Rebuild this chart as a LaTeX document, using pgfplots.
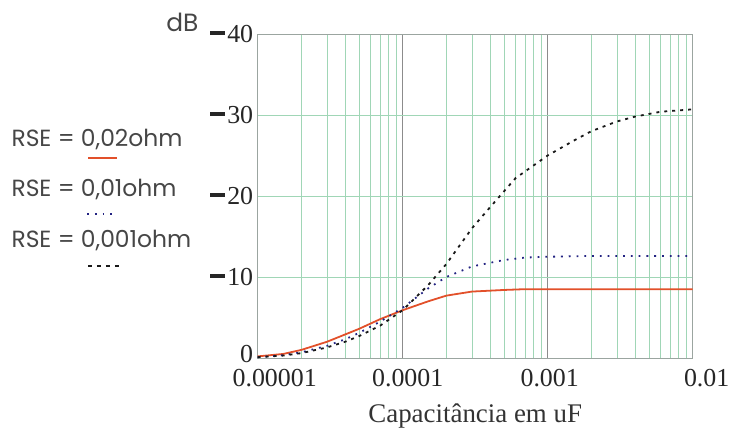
\documentclass[border=0pt]{standalone}
\usepackage{fontspec}
\setmainfont{Liberation Serif}
\newfontfamily\legfont{Poppins}
\usepackage{pgfplots}
\pgfplotsset{compat=1.18}
\definecolor{gridgreen}{RGB}{160,214,182}
\definecolor{majorgray}{RGB}{140,140,140}
\definecolor{framegray}{RGB}{155,165,160}
\definecolor{rsered}{RGB}{226,80,42}
\definecolor{rseblue}{RGB}{35,35,130}
\definecolor{rseblack}{RGB}{25,25,25}
\definecolor{legtext}{RGB}{70,70,70}
% heavy minus dash used in front of the dB tick values
\newcommand{\negsign}{\rule[7.5bp]{15bp}{3.6bp}\hspace{2bp}}

\begin{document}
\begin{tikzpicture}
\useasboundingbox (0,0) rectangle (735bp,432bp);
\begin{axis}[
  at={(257.7bp,74bp)}, anchor=south west,
  scale only axis, width=435bp, height=324bp,
  xmode=log, log basis x=10,
  xmin=1e-5, xmax=1e-2,
  ymin=-40, ymax=0, y dir=reverse,
  xtick={1e-4,1e-3,1e-2},
  xticklabels={{\hspace*{10bp}0.0001},{\hspace*{4bp}0.001},{\hspace*{28bp}0.01}},
  extra x ticks={1e-5},
  extra x tick labels={0.00001},
  extra x tick style={grid=none, xticklabel style={xshift=17bp}},
  ytick={-40,-30,-20,-10,0},
  yticklabels={\negsign40,\negsign30,\negsign20,\negsign10,\smash{\raisebox{-4bp}{0}}},
  minor xtick={2e-5,3e-5,4e-5,5e-5,6e-5,7e-5,8e-5,9e-5,
               2e-4,3e-4,4e-4,5e-4,6e-4,7e-4,8e-4,9e-4,
               2e-3,3e-3,4e-3,5e-3,6e-3,7e-3,8e-3,9e-3},
  major tick length=0pt, minor tick length=0pt,
  xmajorgrids, xminorgrids, ymajorgrids,
  x grid style={majorgray, line width=0.7pt},
  minor x grid style={gridgreen, line width=0.7pt},
  y grid style={gridgreen, line width=0.7pt},
  axis line style={framegray, line width=0.8pt},
  tick label style={font=\fontsize{26}{28}\selectfont, text=black!85},
  xticklabel style={yshift=-8bp},
  yticklabel style={xshift=-1bp},
  xlabel={Capacitância em uF},
  xlabel style={font=\fontsize{27}{30}\selectfont, text=black!80, yshift=-10bp},
  clip=false,
]
% RSE = 0,02 ohm
\addplot[rsered, line width=1.8pt] coordinates {
  (1e-5,-0.2) (1.5e-5,-0.5) (2e-5,-1.0) (3e-5,-2.0) (4e-5,-2.9)
  (5e-5,-3.6) (7e-5,-4.8) (1e-4,-5.9) (1.5e-4,-7.0) (2e-4,-7.7)
  (3e-4,-8.2) (5e-4,-8.4) (7e-4,-8.5) (1e-3,-8.5) (3e-3,-8.5) (1e-2,-8.5)
};
% RSE = 0,01 ohm
\addplot[rseblue, line width=1.8pt, dash pattern=on 1.8pt off 6pt] coordinates {
  (1e-5,-0.1) (1.5e-5,-0.35) (2e-5,-0.7) (3e-5,-1.5) (4e-5,-2.3)
  (5e-5,-3.1) (7e-5,-4.5) (1e-4,-6.2) (1.5e-4,-8.6) (2e-4,-10.0)
  (3e-4,-11.3) (5e-4,-12.1) (7e-4,-12.4) (1e-3,-12.5) (2e-3,-12.6) (1e-2,-12.6)
};
% RSE = 0,001 ohm
\addplot[rseblack, line width=1.8pt, dash pattern=on 3pt off 5pt] coordinates {
  (1e-5,-0.1) (1.5e-5,-0.3) (2e-5,-0.6) (3e-5,-1.3) (4e-5,-2.0)
  (5e-5,-2.7) (7e-5,-4.0) (1e-4,-5.9) (1.5e-4,-9.0) (2e-4,-11.6)
  (3e-4,-16.0) (4e-4,-18.6) (6e-4,-22.2) (1e-3,-25.0) (1.5e-3,-26.8)
  (2e-3,-28.0) (3e-3,-29.2) (4e-3,-29.8) (6e-3,-30.4) (1e-2,-30.7)
};
\end{axis}
% unit label and legend
\node[anchor=east, font=\legfont\fontsize{25}{27}\selectfont, text=legtext] at (202bp,410bp) {dB};
\begin{scope}[every node/.style={anchor=west, font=\legfont\fontsize{23.5}{25}\selectfont, text=legtext}]
  \node at (8bp,292bp) {RSE = 0,02ohm};
  \draw[rsered, line width=2.2pt] (88bp,274bp) -- (117bp,274bp);
  \node at (8bp,242bp) {RSE = 0,01ohm};
  \draw[rseblue, line width=1.8pt, dash pattern=on 1.8pt off 6pt] (87bp,218bp) -- (118bp,218bp);
  \node at (8bp,191bp) {RSE = 0,001ohm};
  \draw[rseblack, line width=2.2pt, dash pattern=on 4pt off 5pt] (88bp,166bp) -- (122bp,166bp);
\end{scope}
\end{tikzpicture}
\end{document}
